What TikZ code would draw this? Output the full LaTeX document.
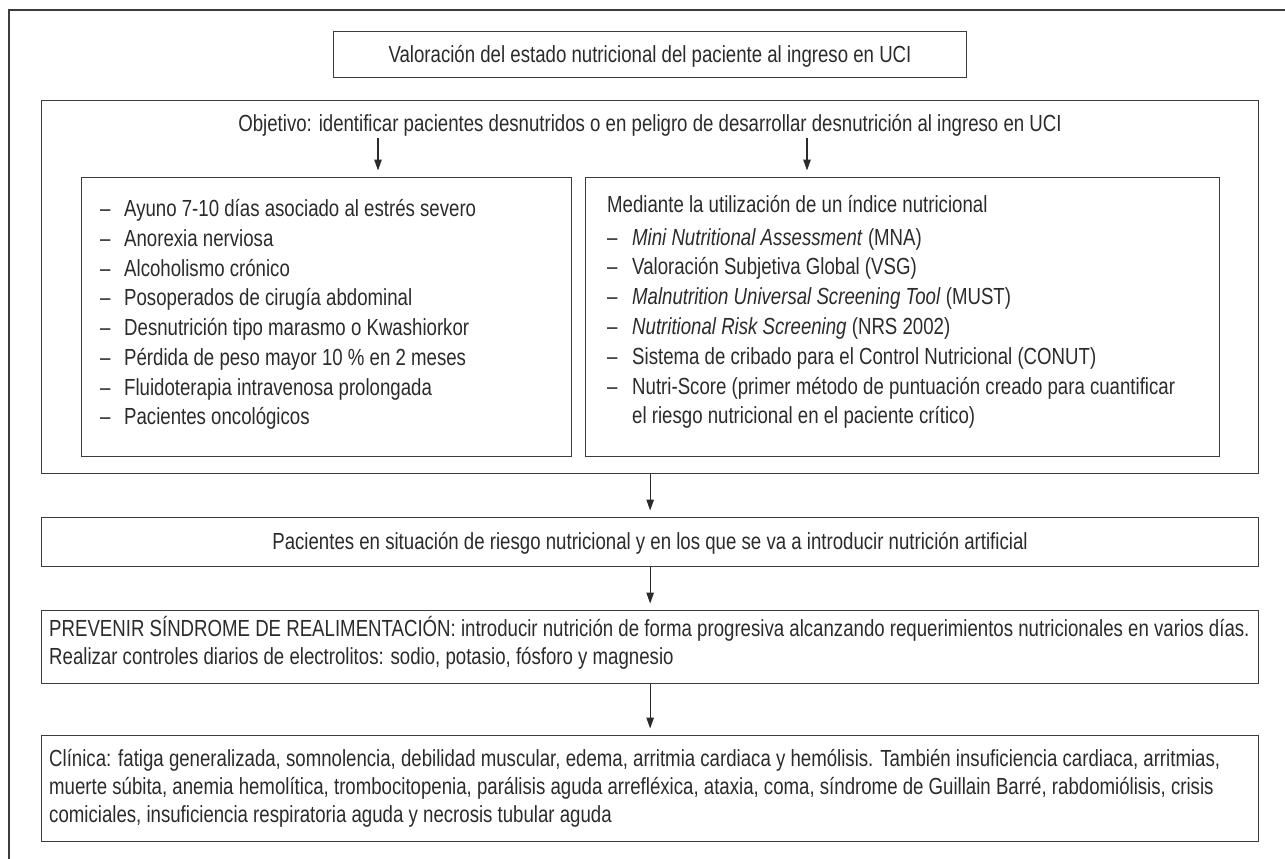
\documentclass[tikz,border=0pt]{standalone}
\usepackage{fontspec}
\setmainfont{Liberation Sans}[FakeStretch=0.8]
\usetikzlibrary{arrows.meta,calc}
\definecolor{ink}{HTML}{2B2B2B}
\definecolor{edge}{HTML}{3C3C3C}
\begin{document}
\begin{tikzpicture}[x=1pt,y=-1pt,
  box/.style={draw=edge, line width=1.3pt, inner sep=0pt, anchor=north west},
  txt/.style={text=ink, inner sep=0pt, font=\fontsize{23.3}{28.3}\selectfont},
  arr/.style={draw=ink, line width=1.2pt, shorten >=6.5pt, -{Triangle[length=11pt,width=7.5pt]}}]
\useasboundingbox (0,0) rectangle (1285,859);
% outer frame (cropped)
\draw[edge, line width=2.6pt] (9,870) -- (9,10) -- (1295,10);
% boxes
\node[box, minimum width=633pt, minimum height=46pt] (title) at (333,31) {};
\node[txt, anchor=base] (titletext) at (650,62.5) {Valoración del estado nutricional del paciente al ingreso en UCI};
\node[box, minimum width=1217pt, minimum height=373pt] (obj) at (41,100) {};
\node[txt, anchor=base] (objtext) at (650,131.5) {Objetivo: identificar pacientes desnutridos o en peligro de desarrollar desnutrición al ingreso en UCI};
\node[box, minimum width=490pt, minimum height=279pt] (left) at (81,177) {};
\node[box, minimum width=634pt, minimum height=279pt] (right) at (585,177) {};
\node[box, minimum width=1217pt, minimum height=49pt] (risk) at (41,517) {};
\node[txt, anchor=base] (risktext) at (650,549) {Pacientes en situación de riesgo nutricional y en los que se va a introducir nutrición artificial};
\node[box, minimum width=1217pt, minimum height=73pt] (prev) at (41,610) {};
\node[box, minimum width=1217pt, minimum height=106pt] (clin) at (41,735) {};
% left list
\foreach \t [count=\i] in {Ayuno 7-10 días asociado al estrés severo, Anorexia nerviosa, Alcoholismo crónico, Posoperados de cirugía abdominal, Desnutrición tipo marasmo o Kwashiorkor, Pérdida de peso mayor 10 \% en 2 meses, Fluidoterapia intravenosa prolongada, Pacientes oncológicos}
  \node[txt, anchor=base west] (L\i) at (100,{216.7+(\i-1)*29.75}) {\makebox[24pt][l]{–}\t};
% right list
\node[txt, anchor=base west] (R0) at (607,212.7) {Mediante la utilización de un índice nutricional};
\foreach \t [count=\i] in {{\textit{Mini Nutritional Assessment} (MNA)}, {Valoración Subjetiva Global (VSG)}, {\textit{Malnutrition Universal Screening Tool} (MUST)}, {\textit{Nutritional Risk Screening} (NRS 2002)}, {Sistema de cribado para el Control Nutricional (CONUT)}, {Nutri-Score (primer método de puntuación creado para cuantificar}}
  \node[txt, anchor=base west] (R\i) at (607,{245+(\i-1)*29.8}) {\makebox[25pt][l]{–}\t};
\node[txt, anchor=base west] (R7) at (632,{245+6*29.8}) {el riesgo nutricional en el paciente crítico)};
% prevenir text
\node[txt, anchor=base west] (P1) at (49,636.5) {PREVENIR SÍNDROME DE REALIMENTACIÓN: introducir nutrición de forma progresiva alcanzando requerimientos nutricionales en varios días.};
\node[txt, anchor=base west] (P2) at (49,664.5) {Realizar controles diarios de electrolitos: sodio, potasio, fósforo y magnesio};
% clinica text
\node[txt, anchor=base west] (C1) at (49,766) {Clínica: fatiga generalizada, somnolencia, debilidad muscular, edema, arritmia cardiaca y hemólisis. También insuficiencia cardiaca, arritmias,};
\node[txt, anchor=base west] (C2) at (49,794.3) {muerte súbita, anemia hemolítica, trombocitopenia, parálisis aguda arrefléxica, ataxia, coma, síndrome de Guillain Barré, rabdomiólisis, crisis};
\node[txt, anchor=base west] (C3) at (49,822.6) {comiciales, insuficiencia respiratoria aguda y necrosis tubular aguda};
% arrows
\coordinate (aL) at (378,138);
\coordinate (aR) at (807,138);
\draw[arr] (aL) -- (aL |- left.north);
\draw[arr] (aR) -- (aR |- right.north);
\draw[arr] (obj.south) -- (risk.north);
\draw[arr] (risk.south) -- (prev.north);
\draw[arr] (prev.south) -- (clin.north);
\end{tikzpicture}
\end{document}
